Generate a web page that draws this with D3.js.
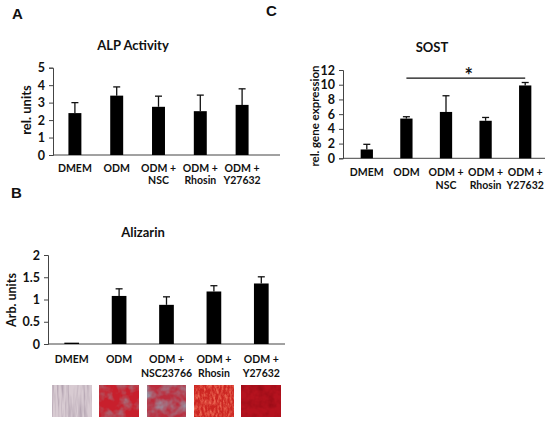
<!DOCTYPE html>
<html>
<head>
<meta charset="utf-8">
<script src="https://cdn.jsdelivr.net/npm/d3@7"></script>
<style>
  body { margin: 0; background: #fff; }
  svg { display: block; }
  text { font-family: Lato, "Open Sans", sans-serif; font-weight: bold; fill: #111; }
  .panel { font-family: "Liberation Sans", Arial, sans-serif; font-size: 15px; }
</style>
</head>
<body>
<div id="fig"></div>
<script>
// ---- data ----
var alpLabels = [["DMEM"], ["ODM"], ["ODM +", "NSC"], ["ODM +", "Rhosin"], ["ODM +", "Y27632"]];
var alpMean = [2.4, 3.4, 2.76, 2.51, 2.87];
var alpErr  = [0.6, 0.5, 0.61, 0.92, 0.92];
var alpTicks = [0, 1, 2, 3, 4, 5];

var sostLabels = [["DMEM"], ["ODM"], ["ODM +", "NSC"], ["ODM +", "Rhosin"], ["ODM +", "Y27632"]];
var sostMean = [1.2, 5.4, 6.3, 5.1, 9.9];
var sostErr  = [0.7, 0.25, 2.2, 0.45, 0.4];
var sostTicks = [0, 2, 4, 6, 8, 10, 12];
var sostSig = {from: 1, to: 4, level: 10.9, mark: "*"};

var aliLabels = [["DMEM"], ["ODM"], ["ODM +", "NSC23766"], ["ODM +", "Rhosin"], ["ODM +", "Y27632"]];
var aliMean = [0.03, 1.08, 0.88, 1.18, 1.36];
var aliErr  = [0, 0.16, 0.18, 0.13, 0.15];
var aliTicks = [0, 0.5, 1, 1.5, 2];

// stain thumbnails (base colour, spot colour, texture frequency, spot amount)
var stainBase = ["#d8cbd2", "#c81f2c", "#bb2c3c", "#cc2622", "#b5121e"];
var stainSpot = ["#b0a0ae", "#9a8894", "#9890a0", "#ee6e58", "#8c0812"];
var stainFreq = ["0.5 0.03", "0.1 0.1", "0.08 0.08", "0.5 0.18", "0.12 0.12"];
var stainAmt  = [0.75, 0.62, 0.95, 0.85, 0.5];

var W = 550, H = 425;
var svg = d3.select("#fig").append("svg").attr("width", W).attr("height", H);
var defs = svg.append("defs");

// draws one bar panel
function panel(cfg) {
  var g = svg.append("g");
  var idx = d3.range(cfg.mean.length);
  var x = d3.scaleBand().domain(idx).range(cfg.xr).paddingInner(0.69).paddingOuter(0.345);
  var y = d3.scaleLinear().domain([0, d3.max(cfg.ticks)]).range(cfg.yr);

  // y axis
  var ya = g.append("g")
    .attr("transform", "translate(" + cfg.axisX[0] + ",0)")
    .call(d3.axisLeft(y).tickValues(cfg.ticks).tickSize(4).tickPadding(4).tickFormat(function(d) { return d; }));
  ya.select(".domain").attr("stroke", "#444");
  ya.selectAll(".tick line").attr("stroke", "#444");
  ya.selectAll("text").attr("font-size", 12.5).attr("font-family", "Lato").attr("font-weight", "bold").attr("fill", "#111");

  // x axis line
  g.append("line")
    .attr("x1", cfg.axisX[0]).attr("x2", cfg.axisX[1])
    .attr("y1", y(0)).attr("y2", y(0))
    .attr("stroke", "#444");

  // bars
  g.selectAll(".bar").data(idx).enter().append("rect")
    .attr("x", function(i) { return x(i); })
    .attr("width", x.bandwidth())
    .attr("y", function(i) { return y(cfg.mean[i]); })
    .attr("height", function(i) { return Math.max(1, y(0) - y(cfg.mean[i])); })
    .attr("fill", "#000");

  // error bars (upper only)
  var eb = g.selectAll(".err").data(idx.filter(function(i) { return cfg.err[i] > 0; })).enter().append("g")
    .attr("stroke", "#111").attr("stroke-width", 1.3);
  eb.append("line")
    .attr("x1", function(i) { return x(i) + x.bandwidth() / 2; })
    .attr("x2", function(i) { return x(i) + x.bandwidth() / 2; })
    .attr("y1", function(i) { return y(cfg.mean[i]); })
    .attr("y2", function(i) { return y(cfg.mean[i] + cfg.err[i]); });
  eb.append("line")
    .attr("x1", function(i) { return x(i) + x.bandwidth() / 2 - 3.5; })
    .attr("x2", function(i) { return x(i) + x.bandwidth() / 2 + 3.5; })
    .attr("y1", function(i) { return y(cfg.mean[i] + cfg.err[i]); })
    .attr("y2", function(i) { return y(cfg.mean[i] + cfg.err[i]); });

  // category labels
  var lab = g.selectAll(".lab").data(idx).enter().append("text")
    .attr("text-anchor", "middle")
    .attr("font-size", 10.5)
    .attr("y", cfg.labelY);
  lab.each(function(i) {
    var t = d3.select(this);
    cfg.labels[i].forEach(function(s, k) {
      t.append("tspan")
        .attr("x", x(i) + x.bandwidth() / 2)
        .attr("dy", k === 0 ? 0 : cfg.lineH)
        .text(s);
    });
  });

  // title and y label
  g.append("text").attr("x", cfg.title[1]).attr("y", cfg.title[2])
    .attr("text-anchor", "middle").attr("font-size", 13).text(cfg.title[0]);
  g.append("text")
    .attr("transform", "translate(" + cfg.ylab[1] + "," + cfg.ylab[2] + ") rotate(-90)")
    .attr("text-anchor", "middle").attr("dy", "0.35em").attr("font-size", cfg.ylab[3]).text(cfg.ylab[0]);

  return {x: x, y: y, g: g};
}

// A: ALP activity
panel({
  mean: alpMean, err: alpErr, labels: alpLabels, ticks: alpTicks,
  xr: [54, 263], yr: [155, 67.7], axisX: [53, 280],
  labelY: 172, lineH: 12,
  title: ["ALP Activity", 133, 50],
  ylab: ["rel. units", 26, 110, 13]
});

// C: SOST
var c = panel({
  mean: sostMean, err: sostErr, labels: sostLabels, ticks: sostTicks,
  xr: [347, 545], yr: [158.3, 70], axisX: [343, 545],
  labelY: 176, lineH: 13,
  title: ["SOST", 432, 52],
  ylab: ["rel. gene expression", 315, 116, 11.5]
});
var cx0 = c.x(sostSig.from) + c.x.bandwidth() / 2, cx1 = c.x(sostSig.to) + c.x.bandwidth() / 2;
c.g.append("line")
  .attr("x1", cx0).attr("x2", cx1)
  .attr("y1", c.y(sostSig.level)).attr("y2", c.y(sostSig.level))
  .attr("stroke", "#111").attr("stroke-width", 1.3);
c.g.append("text")
  .attr("x", (cx0 + cx1) / 2 + 3).attr("y", c.y(sostSig.level) + 5)
  .attr("text-anchor", "middle").attr("font-size", 20).attr("font-family", "Liberation Sans")
  .text(sostSig.mark);

// B: Alizarin
var b = panel({
  mean: aliMean, err: aliErr, labels: aliLabels, ticks: aliTicks,
  xr: [48, 285], yr: [344, 255], axisX: [48, 285],
  labelY: 363, lineH: 13.5,
  title: ["Alizarin", 143, 237],
  ylab: ["Arb. units", 12, 300, 12.5]
});

// stain thumbnails under panel B
stainBase.forEach(function(col, i) {
  var f = defs.append("filter").attr("id", "stain" + i)
    .attr("x", 0).attr("y", 0).attr("width", 1).attr("height", 1)
    .attr("color-interpolation-filters", "sRGB");
  f.append("feTurbulence").attr("type", "fractalNoise").attr("baseFrequency", stainFreq[i])
    .attr("numOctaves", 3).attr("seed", i + 2).attr("result", "n");
  var sc = d3.color(stainSpot[i]);
  var a = stainAmt[i];
  f.append("feColorMatrix").attr("in", "n").attr("type", "matrix")
    .attr("values", [0, 0, 0, 0, sc.r / 255, 0, 0, 0, 0, sc.g / 255, 0, 0, 0, 0, sc.b / 255, 2.6 * a, 0, 0, 0, -1.0 * a].join(" "))
    .attr("result", "spots");
  f.append("feFlood").attr("flood-color", col).attr("result", "base");
  f.append("feComposite").attr("in", "spots").attr("in2", "base").attr("operator", "over");
});
var thumbW = 39, thumbTop = 385, thumbH = 32;
b.g.selectAll(".thumb").data(d3.range(stainBase.length)).enter().append("rect")
  .attr("x", function(i) { return b.x(i) + b.x.bandwidth() / 2 - thumbW / 2; })
  .attr("y", thumbTop).attr("width", thumbW).attr("height", thumbH)
  .attr("fill", function(i) { return stainBase[i]; })
  .attr("filter", function(i) { return "url(#stain" + i + ")"; });

// panel letters
svg.append("text").attr("class", "panel").attr("x", 12).attr("y", 19).text("A");
svg.append("text").attr("class", "panel").attr("x", 11).attr("y", 198).text("B");
svg.append("text").attr("class", "panel").attr("x", 266).attr("y", 16).text("C");
</script>
</body>
</html>
